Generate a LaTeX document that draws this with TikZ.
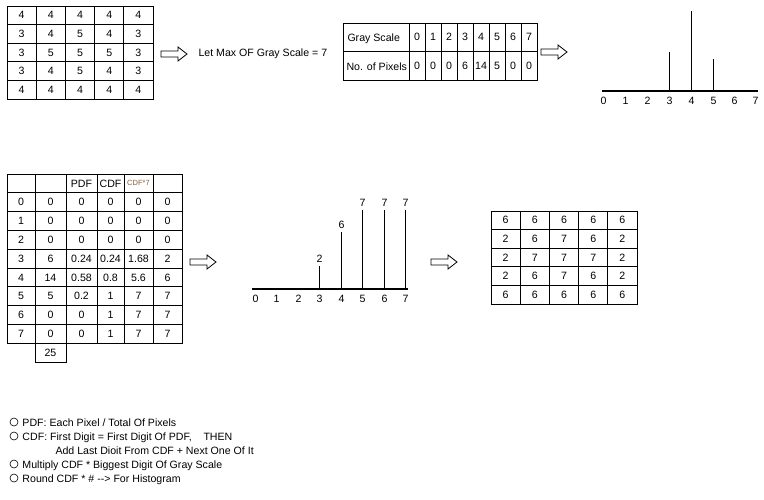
\documentclass[tikz,border=0pt]{standalone}
\usepackage{fontspec}
\setmainfont{Liberation Sans}
\usepackage{tikz}
\definecolor{cdfbrown}{HTML}{8C5A3C}

\begin{document}
\begin{tikzpicture}[x=1pt,y=-1pt,line width=1pt,
    every node/.style={font=\fontsize{10.6}{12}\selectfont,inner sep=0pt},
    cell/.style={draw,minimum width=29.2pt,minimum height=18.6pt},
    bar/.style={line width=1.2pt},
    note/.style={anchor=base west},
    bullet/.style={circle,draw,line width=0.6pt,minimum size=8pt}]
    \useasboundingbox (0,0) rectangle (764,499);

    \foreach \row [count=\r] in {{4,4,4,4,4},{3,4,5,4,3},{3,5,5,5,3},{3,4,5,4,3},{4,4,4,4,4}}
        \foreach \v [count=\c] in \row
            \node at ({7+29.2*(\c-0.5)},{6+18.6*(\r-0.5)}) [cell] (in-\r-\c) {\v};

    \foreach \ax/\ay [count=\i] in {161/54,541/52,190/262,431/262}
        \draw[line width=0.8pt] (\ax,\ay-3) coordinate (arr-\i) -- ++(17,0) -- ++(0,-4) -- ++(9,7) -- ++(-9,7) -- ++(0,-4) -- ++(-17,0) -- cycle;

    \node at (198,54) [anchor=west] (maxgs) {Let Max OF Gray Scale = 7};

    \draw (343,23) rectangle (537,80);
    \draw (343,51.5) -- (537,51.5);
    \foreach \k in {0,...,7} \draw ({409+16*\k},23) -- ({409+16*\k},80);
    \node at (347,41.5) [note] (gs) {Gray Scale};
    \node at (346,70) [note] (np) {No. of Pixels};
    \foreach \n [count=\k from 0] in {0,0,0,6,14,5,0,0} {
        \node at ({417+16*\k},37.25) (g-\k) {\k};
        \node at ({417+16*\k},65.75) (p-\k) {\n};
    }

    \coordinate (ax1l) at (602,91);
    \coordinate (ax1r) at (758,91);
    \draw[bar] (ax1l) -- (ax1r);
    \foreach \hx [count=\k from 0] in {603.5,625.5,647.5,669.5,691.5,713.5,734.5,755.5} {
        \coordinate (b1-\k) at (\hx,91);
        \node at (\hx,101) (h1-\k) {\k};
    }
    \foreach \k/\h in {3/39,4/80,5/32} \draw[bar] (b1-\k) -- ++(0,-\h);

    % equalization table
    \draw (7,174) rectangle (182,343.2);
    \foreach \vx in {35,66,97,124,153} \draw (\vx,174) -- (\vx,343.2);
    \foreach \k in {1,...,8} \draw (7,{174+18.8*\k}) -- (182,{174+18.8*\k});
    \draw (35,343.2) rectangle (66,362);
    \node at (81.5,183.4) (hpdf) {PDF};
    \node at (110.5,183.4) (hcdf) {CDF};
    \node at (138.5,183.4) [font=\fontsize{7.5}{9}\selectfont,text=cdfbrown] (hcdf7) {CDF*7};
    \foreach \row [count=\r] in {{0,0,0,0,0,0},{1,0,0,0,0,0},{2,0,0,0,0,0},{3,6,0.24,0.24,1.68,2},{4,14,0.58,0.8,5.6,6},{5,5,0.2,1,7,7},{6,0,0,1,7,7},{7,0,0,1,7,7}}
        \foreach \v [count=\c] in \row {
            \pgfmathsetmacro\cx{{21,50.5,81.5,110.5,138.5,167.5}[\c-1]}
            \node at (\cx,{183.4+18.8*\r}) (t-\r-\c) {\v};
        }
    \node at (50.5,352.6) (total) {25};

    \coordinate (ax2l) at (252,289);
    \coordinate (ax2r) at (408,289);
    \draw[bar] (ax2l) -- (ax2r);
    \foreach \hx [count=\k from 0] in {255.5,276.5,298.5,319.5,341.5,362.5,384.5,405.5} {
        \coordinate (b2-\k) at (\hx,289);
        \node at (\hx,299) (h2-\k) {\k};
    }
    \foreach \k/\h/\v in {3/23/2,4/57/6,5/79/7,6/79/7,7/79/7}
        \draw[bar] (b2-\k) -- ++(0,-\h) node[above=3pt] (v2-\k) {\v};

    \foreach \row [count=\r] in {{6,6,6,6,6},{2,6,7,6,2},{2,7,7,7,2},{2,6,7,6,2},{6,6,6,6,6}}
        \foreach \v [count=\c] in \row
            \node at ({491+29.2*(\c-0.5)},{211+18.6*(\r-0.5)}) [cell] (out-\r-\c) {\v};

    % notes
    \node at (14,422) [bullet] (o1) {};
    \node at (22,426) [note] (n1) {PDF: Each Pixel / Total Of Pixels};
    \node at (14,436) [bullet] (o2) {};
    \node at (22,440) [note] (n2) {CDF: First Digit = First Digit Of PDF,};
    \node at (203,440) [note] (n2b) {THEN};
    \node at (55,454) [note] (n3) {Add Last Dioit From CDF + Next One Of It};
    \node at (14,464) [bullet] (o3) {};
    \node at (22,468) [note] (n4) {Multiply CDF * Biggest Digit Of Gray Scale};
    \node at (14,478) [bullet] (o4) {};
    \node at (22,482) [note] (n5) {Round CDF * \# {-}{-}> For Histogram};
\end{tikzpicture}
\end{document}
